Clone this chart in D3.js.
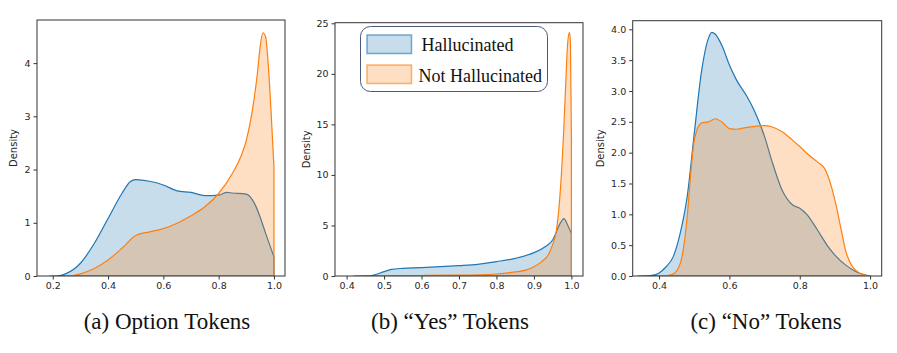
<!DOCTYPE html>
<html lang="en">
<head>
  <meta charset="UTF-8">
  <title>Density plots</title>
  <script src="https://d3js.org/d3.v7.min.js"></script>
  <style>
    body {
      margin: 0;
      background: #fff;
    }
    .tick text {
      font-family: "DejaVu Sans", sans-serif;
      font-size: 9.5px;
      fill: #262626;
    }
    .ylabel {
      font-family: "DejaVu Sans", sans-serif;
      font-size: 10px;
      fill: #262626;
    }
    .caption {
      font-family: "Liberation Serif", "Times New Roman", serif;
      font-size: 23px;
      fill: #111;
    }
    .legend-text {
      font-family: "Liberation Serif", "Times New Roman", serif;
      font-size: 18px;
      fill: #111;
    }
  </style>
</head>
<body>
  <div id="chart"></div>
  <script>
    // (a) Option tokens
    const optHallX = [0.19, 0.22, 0.25, 0.3, 0.35, 0.4, 0.45, 0.48, 0.5, 0.55, 0.6, 0.65, 0.7, 0.75, 0.8, 0.83, 0.85, 0.9, 0.93, 0.95, 0.97, 1.0];
    const optHallY = [0, 0.005, 0.05, 0.24, 0.61, 1.08, 1.55, 1.77, 1.81, 1.78, 1.71, 1.6, 1.57, 1.51, 1.52, 1.57, 1.56, 1.54, 1.36, 1.11, 0.8, 0.36];
    const optNotX = [0.24, 0.27, 0.3, 0.35, 0.4, 0.45, 0.5, 0.55, 0.6, 0.65, 0.7, 0.75, 0.8, 0.85, 0.88, 0.9, 0.92, 0.94, 0.95, 0.96, 0.97, 0.98, 0.99, 1.0];
    const optNotY = [0, 0.005, 0.04, 0.14, 0.3, 0.52, 0.76, 0.83, 0.89, 0.99, 1.13, 1.3, 1.55, 1.93, 2.24, 2.55, 3.05, 3.8, 4.3, 4.57, 4.49, 3.93, 3.05, 2.05];

    // (b) "Yes" tokens
    const yesHallX = [0.42, 0.45, 0.47, 0.5, 0.52, 0.55, 0.6, 0.65, 0.7, 0.75, 0.8, 0.85, 0.9, 0.93, 0.95, 0.97, 0.98, 0.99, 1.0];
    const yesHallY = [0, 0.01, 0.07, 0.43, 0.66, 0.76, 0.83, 0.92, 1.02, 1.15, 1.42, 1.75, 2.31, 2.9, 3.56, 5.2, 5.68, 5.05, 4.2];
    const yesNotX = [0.48, 0.52, 0.55, 0.6, 0.7, 0.8, 0.85, 0.88, 0.9, 0.92, 0.94, 0.95, 0.96, 0.97, 0.98, 0.985, 0.99, 0.995, 0.9975, 1.0];
    const yesNotY = [0, 0.01, 0.03, 0.05, 0.08, 0.2, 0.4, 0.6, 0.92, 1.4, 2.2, 3.1, 4.5, 8.2, 14.8, 19.1, 23.0, 24.1, 23.0, 14];

    // (c) "No" tokens
    const noHallX = [0.34, 0.36, 0.38, 0.4, 0.42, 0.44, 0.46, 0.48, 0.5, 0.52, 0.54, 0.55, 0.56, 0.58, 0.6, 0.62, 0.65, 0.67, 0.7, 0.72, 0.75, 0.78, 0.8, 0.82, 0.85, 0.88, 0.9, 0.93, 0.96, 1.0];
    const noHallY = [0, 0.002, 0.01, 0.05, 0.15, 0.31, 0.69, 1.29, 2.31, 3.29, 3.85, 3.95, 3.92, 3.72, 3.42, 3.18, 2.91, 2.69, 2.26, 1.88, 1.39, 1.15, 1.1, 1.0, 0.75, 0.48, 0.34, 0.18, 0.07, 0.0];
    const noNotX = [0.4, 0.42, 0.44, 0.46, 0.48, 0.49, 0.5, 0.52, 0.54, 0.56, 0.58, 0.6, 0.62, 0.65, 0.7, 0.72, 0.75, 0.78, 0.8, 0.82, 0.85, 0.87, 0.89, 0.9, 0.92, 0.93, 0.95, 0.97, 1.0];
    const noNotY = [0, 0.005, 0.03, 0.2, 0.96, 1.66, 2.2, 2.48, 2.5, 2.55, 2.49, 2.39, 2.38, 2.41, 2.44, 2.42, 2.34, 2.2, 2.1, 1.99, 1.85, 1.75, 1.45, 1.23, 0.69, 0.42, 0.15, 0.05, 0];

    const captions = ["(a) Option Tokens", "(b) \u201cYes\u201d Tokens", "(c) \u201cNo\u201d Tokens"];
    const legendLabels = ["Hallucinated", "Not Hallucinated"];

    const blue = "#1f77b4";
    const orange = "#ff7f0e";

    const panels = [
      {
        left: 37, right: 285, top: 20, bottom: 276,
        xDomain: [0.143, 1.04], yDomain: [0, 4.81],
        xTicks: [0.2, 0.4, 0.6, 0.8, 1.0], xFmt: d3.format(".1f"),
        yTicks: [0, 1, 2, 3, 4], yFmt: d3.format("d"),
        hall: [optHallX, optHallY], not: [optNotX, optNotY],
        labelGap: 24, captionX: 167
      },
      {
        left: 335, right: 583, top: 22.7, bottom: 276,
        xDomain: [0.369, 1.031], yDomain: [0, 25.06],
        xTicks: [0.4, 0.5, 0.6, 0.7, 0.8, 0.9, 1.0], xFmt: d3.format(".1f"),
        yTicks: [0, 5, 10, 15, 20, 25], yFmt: d3.format("d"),
        hall: [yesHallX, yesHallY], not: [yesNotX, yesNotY],
        labelGap: 29, captionX: 450
      },
      {
        left: 632.7, right: 881.7, top: 20.7, bottom: 276,
        xDomain: [0.325, 1.033], yDomain: [0, 4.14],
        xTicks: [0.4, 0.6, 0.8, 1.0], xFmt: d3.format(".1f"),
        yTicks: [0, 0.5, 1, 1.5, 2, 2.5, 3, 3.5, 4], yFmt: d3.format(".1f"),
        hall: [noHallX, noHallY], not: [noNotX, noNotY],
        labelGap: 32, captionX: 766
      }
    ];

    const svg = d3.select("#chart").append("svg")
      .attr("width", 897)
      .attr("height", 353);

    panels.forEach((p, i) => {
      const x = d3.scaleLinear().domain(p.xDomain).range([p.left, p.right]);
      const y = d3.scaleLinear().domain(p.yDomain).range([p.bottom, p.top]);

      const clipId = "clip" + i;
      svg.append("clipPath").attr("id", clipId)
        .append("rect")
        .attr("x", p.left).attr("y", p.top)
        .attr("width", p.right - p.left).attr("height", p.bottom - p.top);

      const g = svg.append("g").attr("clip-path", `url(#${clipId})`);

      const area = d3.area()
        .x(d => x(d[0]))
        .y0(y(0))
        .y1(d => y(d[1]))
        .curve(d3.curveMonotoneX);

      [[p.hall, blue], [p.not, orange]].forEach(([series, color]) => {
        const pts = series[0].map((v, k) => [v, series[1][k]]);
        g.append("path")
          .datum(pts)
          .attr("d", area)
          .attr("fill", color)
          .attr("fill-opacity", 0.25)
          .attr("stroke", color)
          .attr("stroke-width", 1.2)
          .attr("stroke-linejoin", "round");
      });

      // axes
      svg.append("g")
        .attr("transform", `translate(0,${p.bottom})`)
        .call(d3.axisBottom(x).tickValues(p.xTicks).tickFormat(p.xFmt).tickSize(3.5).tickPadding(3))
        .call(a => a.select(".domain").remove())
        .call(a => a.selectAll(".tick line").attr("stroke", "#333"));

      svg.append("g")
        .attr("transform", `translate(${p.left},0)`)
        .call(d3.axisLeft(y).tickValues(p.yTicks).tickFormat(p.yFmt).tickSize(3.5).tickPadding(3))
        .call(a => a.select(".domain").remove())
        .call(a => a.selectAll(".tick line").attr("stroke", "#333"));

      svg.append("rect")
        .attr("x", p.left).attr("y", p.top)
        .attr("width", p.right - p.left).attr("height", p.bottom - p.top)
        .attr("fill", "none")
        .attr("stroke", "#333")
        .attr("stroke-width", 1);

      svg.append("text")
        .attr("class", "ylabel")
        .attr("transform", `translate(${p.left - p.labelGap + 3.5},${(p.top + p.bottom) / 2}) rotate(-90)`)
        .attr("text-anchor", "middle")
        .text("Density");

      svg.append("text")
        .attr("class", "caption")
        .attr("x", p.captionX)
        .attr("y", 329)
        .attr("text-anchor", "middle")
        .text(captions[i]);
    });

    // legend (in panel b)
    const lg = svg.append("g");
    lg.append("rect")
      .attr("x", 360.5).attr("y", 26.5)
      .attr("width", 187).attr("height", 65)
      .attr("rx", 10)
      .attr("fill", "#fff")
      .attr("stroke", "#4a5a7a")
      .attr("stroke-width", 1);

    [blue, orange].forEach((color, k) => {
      lg.append("rect")
        .attr("x", 367).attr("y", 35 + k * 30)
        .attr("width", 44.5).attr("height", 18.5)
        .attr("fill", color)
        .attr("fill-opacity", 0.25)
        .attr("stroke", color)
        .attr("stroke-opacity", 0.6)
        .attr("stroke-width", 1.5);
      lg.append("text")
        .attr("class", "legend-text")
        .attr("x", k === 0 ? 421.5 : 418.5)
        .attr("y", 50.5 + k * 31)
        .text(legendLabels[k]);
    });
  </script>
</body>
</html>
